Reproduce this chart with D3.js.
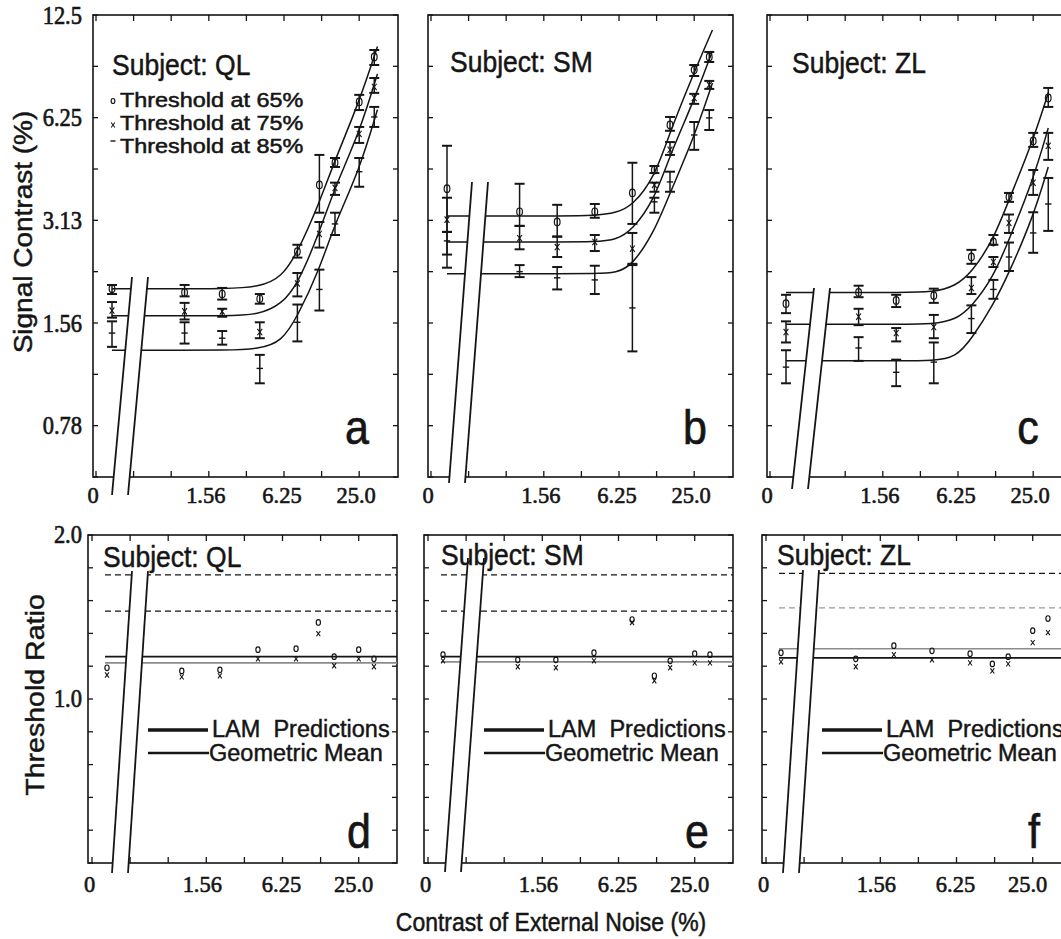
<!DOCTYPE html>
<html><head><meta charset="utf-8">
<script src="https://cdn.jsdelivr.net/npm/d3@7"></script>
<style>body{margin:0;background:#fff}svg{display:block}</style>
</head><body><svg id="c" width="1061" height="939"></svg>
<script>
// ---------------- DATA ----------------
const subjects = ["QL", "SM", "ZL"];
const topLetters = ["a", "b", "c"];
const bottomLetters = ["d", "e", "f"];
const noiseLevels = [0, 1, 2, 4, 8, 12, 16, 25, 33];          // external noise contrast (%)
const xTickValues = [0.1953125, 0.390625, 0.78125, 1.5625, 3.125, 6.25, 12.5, 25];
const xTickLabels = [["0", 0], ["1.56", 1.5625], ["6.25", 6.25], ["25.0", 25]];
const yTopTickLabels = [["12.5", 12.5], ["6.25", 6.25], ["3.13", 3.125], ["1.56", 1.5625], ["0.78", 0.78125]];
const yBotTickLabels = [["2.0", 2.0], ["1.0", 1.0]];
const legendLabels = ["Threshold at 65%", "Threshold at 75%", "Threshold at 85%"];

// Signal contrast thresholds (%) — QL
const ql65 = [1.97, 1.92, 1.90, 1.84, 2.53, 3.97, 4.61, 6.95, 9.42];
const ql65Lo = [1.90, 1.87, 1.83, 1.78, 2.43, 3.29, 4.48, 6.58, 8.92];
const ql65Hi = [2.02, 2.02, 1.98, 1.90, 2.65, 4.86, 4.76, 7.29, 9.87];
const ql75 = [1.70, 1.69, 1.69, 1.47, 2.04, 2.85, 3.89, 5.60, 7.69];
const ql75Lo = [1.62, 1.60, 1.63, 1.41, 1.87, 2.60, 3.71, 5.27, 7.39];
const ql75Hi = [1.80, 1.79, 1.72, 1.57, 2.19, 3.09, 4.03, 5.87, 8.17];
const ql85 = [1.46, 1.46, 1.41, 1.15, 1.57, 1.96, 3.05, 4.34, 6.28];
const ql85Lo = [1.33, 1.36, 1.35, 1.04, 1.38, 1.70, 2.83, 3.92, 5.87];
const ql85Hi = [1.58, 1.57, 1.48, 1.26, 1.77, 2.24, 3.29, 4.76, 6.72];
// SM
const sm65 = [3.87, 3.31, 3.09, 3.31, 3.76, 4.39, 5.95, 8.63, 9.42];
const sm65Lo = [2.89, 3.01, 2.80, 3.18, 3.05, 4.30, 5.72, 8.28, 9.10];
const sm65Hi = [5.17, 4.00, 3.47, 3.49, 4.61, 4.51, 6.28, 8.92, 9.74];
const sm75 = [3.14, 2.77, 2.61, 2.70, 2.58, 3.97, 5.03, 7.14, 7.80];
const sm75Lo = [2.48, 2.57, 2.44, 2.54, 2.31, 3.79, 4.86, 6.86, 7.59];
const sm75Hi = [3.64, 3.01, 2.80, 2.83, 2.87, 4.03, 5.30, 7.34, 8.01];
const sm85 = [2.72, 2.21, 2.12, 2.09, 1.73, 3.54, 4.05, 5.56, 6.24];
const sm85Lo = [2.27, 2.13, 1.96, 1.90, 1.29, 3.29, 3.79, 5.03, 5.75];
const sm85Hi = [2.89, 2.31, 2.28, 2.30, 2.33, 3.64, 4.34, 6.07, 6.58];
// ZL
const zl65 = [1.78, 1.92, 1.82, 1.88, 2.44, 2.70, 3.66, 5.34, 7.14];
const zl65Lo = [1.67, 1.86, 1.74, 1.79, 2.33, 2.65, 3.54, 5.13, 6.72];
const zl65Hi = [1.89, 2.01, 1.89, 1.97, 2.56, 2.83, 3.76, 5.64, 7.64];
const zl75 = [1.47, 1.63, 1.46, 1.52, 1.98, 2.36, 3.07, 4.03, 5.17];
const zl75Lo = [1.37, 1.54, 1.38, 1.41, 1.90, 2.28, 2.87, 3.71, 4.70];
const zl75Hi = [1.58, 1.72, 1.51, 1.65, 2.13, 2.44, 3.25, 4.39, 5.64];
const zl85 = [1.16, 1.32, 1.12, 1.20, 1.61, 1.96, 2.44, 2.87, 3.49];
const zl85Lo = [1.04, 1.21, 1.02, 1.04, 1.46, 1.84, 2.22, 2.51, 2.91];
const zl85Hi = [1.30, 1.42, 1.22, 1.37, 1.76, 2.09, 2.69, 3.30, 4.16];

// Model fit curves, read at these noise levels
const fitNoiseQL = [0, 1, 2, 4, 6, 8, 12, 16, 25, 35];
const fitQL65 = [1.97, 1.97, 1.97, 1.99, 2.13, 2.51, 3.52, 4.70, 6.95, 10.1];
const fitQL75 = [1.64, 1.64, 1.64, 1.65, 1.78, 2.02, 2.88, 3.92, 5.63, 8.4];
const fitQL85 = [1.30, 1.30, 1.30, 1.31, 1.38, 1.63, 2.24, 3.07, 4.37, 6.6];
const fitNoiseSM = [0, 1, 2, 4, 6, 8, 12, 16, 25, 35];
const fitSM65 = [3.22, 3.22, 3.22, 3.22, 3.29, 3.45, 4.16, 5.68, 8.51, 11.3];
const fitSM75 = [2.70, 2.70, 2.70, 2.70, 2.74, 2.93, 3.59, 4.86, 7.05, 9.81];
const fitSM85 = [2.18, 2.18, 2.18, 2.18, 2.19, 2.31, 2.89, 3.76, 5.49, 7.90];
const fitNoiseZL = [0, 1, 2, 4, 6, 8, 12, 16, 25, 33];
const fitZL65 = [1.92, 1.92, 1.92, 1.92, 2.01, 2.19, 2.74, 3.59, 5.37, 7.39];
const fitZL75 = [1.55, 1.55, 1.55, 1.55, 1.60, 1.74, 2.13, 2.74, 4.11, 5.83];
const fitZL85 = [1.21, 1.21, 1.21, 1.21, 1.24, 1.40, 1.77, 2.19, 3.20, 4.48];

// Threshold ratios (bottom panels)
const ratioO_QL = [1.141, 1.126, 1.131, 1.232, 1.237, 1.382, 1.196, 1.232, 1.185];
const ratioX_QL = [1.107, 1.098, 1.103, 1.185, 1.185, 1.318, 1.151, 1.185, 1.146];
const ratioO_SM = [1.206, 1.180, 1.180, 1.216, 1.399, 1.103, 1.175, 1.211, 1.206];
const ratioX_SM = [1.175, 1.146, 1.141, 1.175, 1.382, 1.080, 1.141, 1.165, 1.165];
const ratioO_ZL = [1.216, 1.185, 1.253, 1.226, 1.211, 1.160, 1.196, 1.335, 1.405];
const ratioX_ZL = [1.170, 1.146, 1.206, 1.180, 1.165, 1.126, 1.160, 1.269, 1.324];
const lamPrediction = [1.196, 1.196, 1.19];
const geometricMean = [1.165, 1.17, 1.237];
const dashedUpper = [1.69, 1.69, 1.70];
const dashedLower = [1.45, 1.45, 1.47];

// ---------------- LAYOUT ----------------
const SANS = "'Liberation Sans', Arial, Helvetica, sans-serif";
const SERIF = "'Liberation Serif', 'Times New Roman', serif";
const INK = "#151515";
const svg = d3.select("#c");

const topTop = 15, topH = 462, topW = 305;
const botTop = 535, botH = 328, botW = 309;
const topPanels = [
  {left: 93, subj: [19, 75], letterX: 264, brk: [39, 277, 19, 495]},
  {left: 428, subj: [22, 72], letterX: 267, brk: [44, 182, 21, 483]},
  {left: 767, subj: [25, 73], letterX: 261, brk: [47, 288, 25, 489]}
];
const botPanels = [
  {left: 88, subj: [15, 567], letterX: 271, brk: [44, 571, 24, 873], lowerDashColor: INK},
  {left: 424, subj: [17, 565], letterX: 273, brk: [44, 558, 21, 872], lowerDashColor: INK},
  {left: 762, subj: [15, 565], letterX: 272, brk: [41, 570, 21, 873], lowerDashColor: "#9a9a9a"}
];

const topData = [
  {vals: [ql65, ql75, ql85], lo: [ql65Lo, ql75Lo, ql85Lo], hi: [ql65Hi, ql75Hi, ql85Hi], fitN: fitNoiseQL, fits: [fitQL65, fitQL75, fitQL85]},
  {vals: [sm65, sm75, sm85], lo: [sm65Lo, sm75Lo, sm85Lo], hi: [sm65Hi, sm75Hi, sm85Hi], fitN: fitNoiseSM, fits: [fitSM65, fitSM75, fitSM85]},
  {vals: [zl65, zl75, zl85], lo: [zl65Lo, zl75Lo, zl85Lo], hi: [zl65Hi, zl75Hi, zl85Hi], fitN: fitNoiseZL, fits: [fitZL65, fitZL75, fitZL85]}
];
const botData = [
  {o: ratioO_QL, x: ratioX_QL},
  {o: ratioO_SM, x: ratioX_SM},
  {o: ratioO_ZL, x: ratioX_ZL}
];

function text(g, x, y, s, o = {}) {
  const sy = o.sy || 1.1;
  const sx = o.sx || 1;
  const rot = o.rot || 0;
  const t = g.append("text")
    .attr("transform", rot ? `translate(${x},${y}) rotate(${rot}) scale(${sy},1)` : `translate(${x},${y}) scale(${sx},${sy})`)
    .attr("font-family", o.fam || SANS)
    .attr("font-size", o.size || 22)
    .attr("text-anchor", o.anchor || "start")
    .attr("fill", o.fill || INK)
    .attr("stroke", o.fill || INK)
    .attr("stroke-width", o.sw === undefined ? 0.45 : o.sw)
    .style("white-space", "pre")
    .text(s);
  return t;
}

function marker(g, type, cx, cy, s) {
  if (type === "o") {
    g.append("ellipse").attr("cx", cx).attr("cy", cy).attr("rx", s * 0.75).attr("ry", s)
      .attr("fill", "none").attr("stroke", INK).attr("stroke-width", 1.2);
  } else if (type === "x") {
    g.append("path").attr("d", `M${cx - s * 0.75},${cy - s}L${cx + s * 0.75},${cy + s}M${cx + s * 0.75},${cy - s}L${cx - s * 0.75},${cy + s}`)
      .attr("stroke", INK).attr("stroke-width", 1.1);
  } else {
    g.append("line").attr("x1", cx - s).attr("x2", cx + s).attr("y1", cy).attr("y2", cy)
      .attr("stroke", INK).attr("stroke-width", 1.4);
  }
}

function axisBreak(g, brk, top) {
  const [x1, y1, x2, y2] = brk;
  const w = 16;
  g.append("polygon")
    .attr("points", `${x1},${y1 - top} ${x1 + w},${y1 - top} ${x2 + w},${y2 - top} ${x2},${y2 - top}`)
    .attr("fill", "#fff");
  [0, w].forEach(dx => {
    g.append("line").attr("x1", x1 + dx).attr("y1", y1 - top).attr("x2", x2 + dx).attr("y2", y2 - top)
      .attr("stroke", INK).attr("stroke-width", 1.8);
  });
}

// ---------------- TOP PANELS ----------------
topPanels.forEach((P, i) => {
  const g = svg.append("g").attr("transform", `translate(${P.left},${topTop})`);
  const x = d3.scaleLog().base(2).domain([0.1953125, 50]).range([3, 3 + 8 * 37.6]);
  const y = d3.scaleLog().base(2).domain([0.78125 / Math.SQRT2, 12.5]).range([topH, 0]);
  const xp = n => n === 0 ? 19 : x(n);
  const D = topData[i];

  g.append("rect").attr("x", 0).attr("y", 0).attr("width", topW).attr("height", topH)
    .attr("fill", "none").attr("stroke", INK).attr("stroke-width", 1.6);
  const yt = d3.range(0, 10).map(k => 12.5 * Math.pow(2, -k / 2));
  yt.forEach(v => {
    g.append("line").attr("x1", 0).attr("x2", 5).attr("y1", y(v)).attr("y2", y(v)).attr("stroke", INK).attr("stroke-width", 1.3);
    g.append("line").attr("x1", topW - 5).attr("x2", topW).attr("y1", y(v)).attr("y2", y(v)).attr("stroke", INK).attr("stroke-width", 1.3);
  });
  xTickValues.forEach(v => {
    g.append("line").attr("x1", x(v)).attr("x2", x(v)).attr("y1", topH).attr("y2", topH - 6).attr("stroke", INK).attr("stroke-width", 1.3);
    g.append("line").attr("x1", x(v)).attr("x2", x(v)).attr("y1", 0).attr("y2", 6).attr("stroke", INK).attr("stroke-width", 1.3);
  });

  const line = d3.line().x(d => xp(d[0])).y(d => y(d[1])).curve(d3.curveBasis);
  D.fits.forEach(f => {
    g.append("path").attr("d", line(D.fitN.map((n, k) => [n, f[k]])))
      .attr("fill", "none").attr("stroke", INK).attr("stroke-width", 1.5);
  });

  const types = ["o", "x", "-"];
  D.vals.forEach((vals, s) => {
    vals.forEach((v, k) => {
      const cx = xp(noiseLevels[k]);
      const ylo = y(D.lo[s][k]), yhi = y(D.hi[s][k]);
      g.append("line").attr("x1", cx).attr("x2", cx).attr("y1", ylo).attr("y2", yhi).attr("stroke", INK).attr("stroke-width", 1.5);
      [ylo, yhi].forEach(yy => g.append("line").attr("x1", cx - 5).attr("x2", cx + 5).attr("y1", yy).attr("y2", yy).attr("stroke", INK).attr("stroke-width", 2));
      marker(g, types[s], cx, y(v), types[s] === "o" ? 3.8 : 3.2);
    });
  });

  axisBreak(g, P.brk, topTop);

  const xoff = {"0": 0, "1.56": -3, "6.25": -2, "25.0": -3};
  xTickLabels.forEach(([lab, v]) => {
    const px = lab === "0" ? 0 : x(v) + xoff[lab];
    text(g, px, 503 - topTop, lab, {fam: SERIF, size: 22.5, anchor: "middle", sy: 1.05, sw: 0.6});
  });
  if (i === 0) {
    yTopTickLabels.forEach(([lab, v]) => {
      text(g, -11, y(v) + 8.5, lab, {fam: SERIF, size: 22.5, anchor: "end", sy: 1.15, sw: 0.6});
    });
  }
  text(g, P.subj[0], P.subj[1] - topTop, "Subject: " + subjects[i], {size: 26.5, sy: 1.1});
  text(g, P.letterX, 444 - topTop, topLetters[i], {size: 43, anchor: "middle", sy: 1.12, sw: 0.6});

  if (i === 0) {
    const ly = [101, 125, 141];
    const lb = [107, 130, 153];
    types.forEach((t, s) => {
      marker(g, t, 113 - P.left, ly[s] - topTop, 2.5);
      text(g, 120 - P.left, lb[s] - topTop, legendLabels[s], {size: 19.5, sx: 1.2, sy: 1.0, sw: 0.5});
    });
  }
});

// ---------------- BOTTOM PANELS ----------------
botPanels.forEach((P, i) => {
  const g = svg.append("g").attr("transform", `translate(${P.left},${botTop})`);
  const x = d3.scaleLog().base(2).domain([0.1953125, 50]).range([4, 4 + 8 * 38.1]);
  const y = d3.scaleLog().base(2).domain([0.5, 2.0]).range([botH, 0]);
  const xp = n => n === 0 ? 19 : x(n);
  const D = botData[i];

  g.append("rect").attr("x", 0).attr("y", 0).attr("width", botW).attr("height", botH)
    .attr("fill", "none").attr("stroke", INK).attr("stroke-width", 1.6);
  d3.range(-5, 6).map(k => Math.pow(2, k / 5)).forEach(v => {
    g.append("line").attr("x1", 0).attr("x2", 5).attr("y1", y(v)).attr("y2", y(v)).attr("stroke", INK).attr("stroke-width", 1.3);
    g.append("line").attr("x1", botW - 5).attr("x2", botW).attr("y1", y(v)).attr("y2", y(v)).attr("stroke", INK).attr("stroke-width", 1.3);
  });
  xTickValues.forEach(v => {
    g.append("line").attr("x1", x(v)).attr("x2", x(v)).attr("y1", botH).attr("y2", botH - 6).attr("stroke", INK).attr("stroke-width", 1.3);
    g.append("line").attr("x1", x(v)).attr("x2", x(v)).attr("y1", 0).attr("y2", 6).attr("stroke", INK).attr("stroke-width", 1.3);
  });

  const x0 = 17;
  g.append("line").attr("x1", x0).attr("x2", botW).attr("y1", y(dashedUpper[i])).attr("y2", y(dashedUpper[i]))
    .attr("stroke", INK).attr("stroke-width", 1.3).attr("stroke-dasharray", "6,4");
  g.append("line").attr("x1", x0).attr("x2", botW).attr("y1", y(dashedLower[i])).attr("y2", y(dashedLower[i]))
    .attr("stroke", P.lowerDashColor).attr("stroke-width", 1.3).attr("stroke-dasharray", "6,4");
  g.append("line").attr("x1", x0).attr("x2", botW).attr("y1", y(lamPrediction[i])).attr("y2", y(lamPrediction[i]))
    .attr("stroke", INK).attr("stroke-width", 1.6);
  g.append("line").attr("x1", x0).attr("x2", botW).attr("y1", y(geometricMean[i])).attr("y2", y(geometricMean[i]))
    .attr("stroke", "#8c8c8c").attr("stroke-width", 1.6);

  noiseLevels.forEach((n, k) => {
    marker(g, "o", xp(n), y(D.o[k]), 2.8);
    marker(g, "x", xp(n), y(D.x[k]), 2.6);
  });

  axisBreak(g, P.brk, botTop);

  const xoff = {"0": 1.5, "1.56": -4, "6.25": -1, "25.0": -5};
  xTickLabels.forEach(([lab, v]) => {
    const px = lab === "0" ? 1.5 : x(v) + xoff[lab];
    text(g, px, 892 - botTop, lab, {fam: SERIF, size: 22.5, anchor: "middle", sy: 1.05, sw: 0.6});
  });
  if (i === 0) {
    yBotTickLabels.forEach(([lab, v]) => {
      text(g, -6, y(v) + 8, lab, {fam: SERIF, size: 22.5, anchor: "end", sy: 1.1, sw: 0.6});
    });
  }
  text(g, P.subj[0], P.subj[1] - botTop, "Subject: " + subjects[i], {size: 26.5, sy: 1.1});
  text(g, P.letterX, 848 - botTop, bottomLetters[i], {size: 43, anchor: "middle", sy: 1.12, sw: 0.6});

  // legend
  g.append("line").attr("x1", 60).attr("x2", 120).attr("y1", 730 - botTop).attr("y2", 730 - botTop).attr("stroke", INK).attr("stroke-width", 3.5);
  g.append("line").attr("x1", 60).attr("x2", 121).attr("y1", 753 - botTop).attr("y2", 753 - botTop).attr("stroke", INK).attr("stroke-width", 2.6);
  text(g, 124, 737 - botTop, "LAM  Predictions", {size: 23.5, sy: 1.0});
  text(g, 121, 761 - botTop, "Geometric Mean", {size: 23.5, sy: 1.0});
});

// ---------------- AXIS TITLES ----------------
text(svg, 32, 232, "Signal Contrast (%)", {size: 25, anchor: "middle", rot: -90, sy: 1.12});
text(svg, 44, 695, "Threshold Ratio", {size: 25.5, anchor: "middle", rot: -90, sy: 1.12});
text(svg, 551, 931, "Contrast of External Noise (%)", {size: 23, anchor: "middle", sy: 1.12});
</script></body></html>
